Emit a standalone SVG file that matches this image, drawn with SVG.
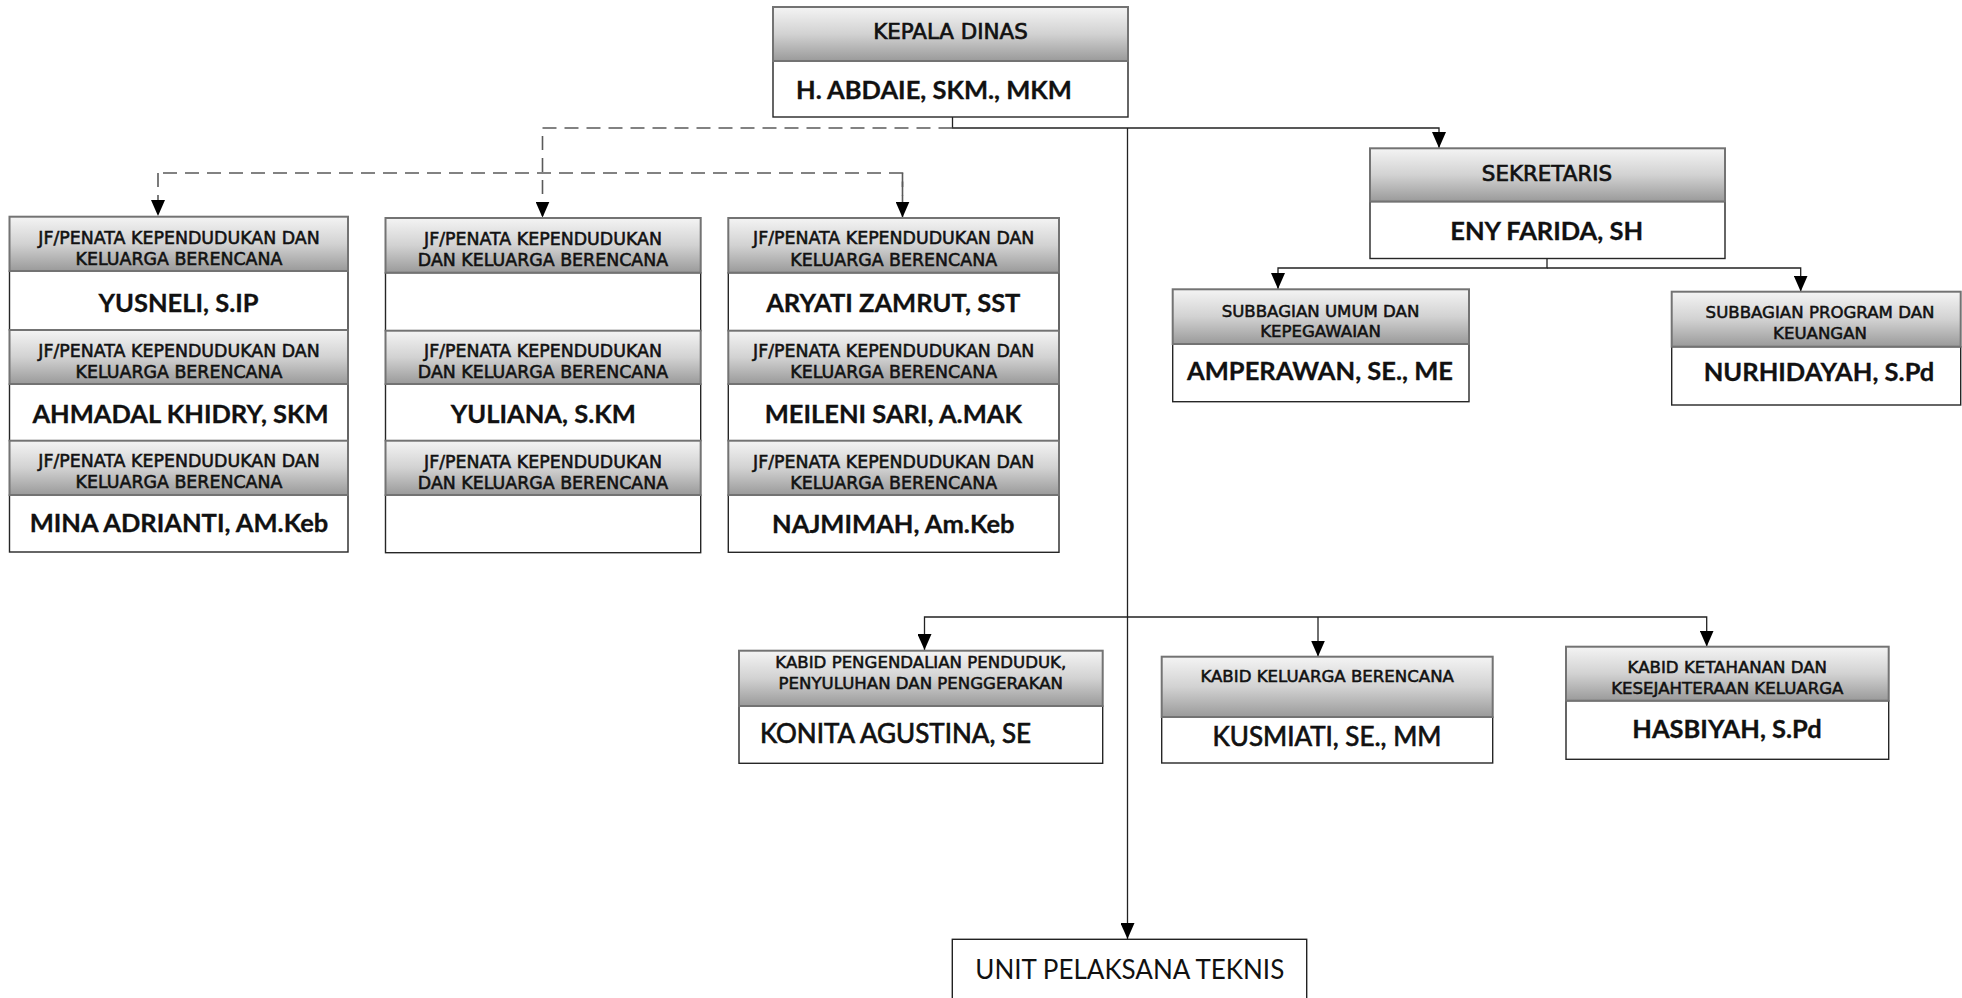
<svg xmlns="http://www.w3.org/2000/svg" width="1962" height="998" viewBox="0 0 1962 998">
<defs>
<linearGradient id="hg" x1="0" y1="0" x2="0" y2="1">
<stop offset="0" stop-color="#f4f4f4"/>
<stop offset="0.5" stop-color="#d2d2d2"/>
<stop offset="1" stop-color="#9a9a9a"/>
</linearGradient>
<marker id="arr" markerUnits="userSpaceOnUse" markerWidth="17" markerHeight="14" refX="16" refY="7" orient="auto" viewBox="0 0 17 14">
<path d="M0,0 L16,7 L0,14 z" fill="#000"/>
</marker>
<style>
.hd{fill:url(#hg);stroke:#737373;stroke-width:2}
.bx{fill:#fff;stroke:#262626;stroke-width:1.4}
.ht{font-family:"DejaVu Sans",sans-serif;fill:#111;stroke:#111;stroke-width:0.55;text-anchor:middle}
.h1{font-size:21.4px;stroke-width:0.7}
.h2{font-size:17.4px}
.h3{font-size:16.6px}
.nm{font-family:Lato,"Open Sans",sans-serif;font-weight:bold;fill:#111;stroke:#111;stroke-width:0.3;text-anchor:middle;font-size:25.5px}
.nr{font-family:Lato,"Open Sans",sans-serif;font-weight:normal;fill:#111;text-anchor:middle;font-size:26px}
.sb{stroke:#111;stroke-width:0.7}
.sl{fill:none;stroke:#222;stroke-width:1.3}
.dl{fill:none;stroke:#5a5a5a;stroke-width:1.6;stroke-dasharray:14 8}
</style>
</defs>
<rect width="1962" height="998" fill="#fff"/>

<g id="connectors">
<path class="sl" d="M952.5,117 V128 H1439 V148" marker-end="url(#arr)"/>
<path class="sl" d="M1127.5,128 V939" marker-end="url(#arr)"/>
<path class="dl" d="M952.5,128 H542.5 V217.5" marker-end="url(#arr)"/>
<path class="dl" d="M902.5,217.5 V173 H158"/>
<path class="dl" d="M158,173 V216" marker-end="url(#arr)"/>
<path class="dl" d="M902.5,173 V217.5" marker-end="url(#arr)"/>
<path class="sl" d="M1547,258.5 V268 H1278 V289" marker-end="url(#arr)"/>
<path class="sl" d="M1547,268 H1800.7 V291.5" marker-end="url(#arr)"/>
<path class="sl" d="M1127.5,617 H924.5 V650" marker-end="url(#arr)"/>
<path class="sl" d="M1127.5,617 H1706.7 V646.5" marker-end="url(#arr)"/>
<path class="sl" d="M1318,617 V656.5" marker-end="url(#arr)"/>
</g>

<g id="kepala-dinas">
<rect class="bx" x="773" y="61" width="355" height="56"/>
<rect class="hd" x="773" y="7" width="355" height="54"/>
<text class="ht h1" x="950.5" y="39">KEPALA DINAS</text>
<text class="nm" x="934" y="99" font-size="26.5px">H. ABDAIE, SKM., MKM</text>
</g>

<g id="jf-col1">
<rect class="bx" x="9.5" y="271" width="338.5" height="59"/>
<rect class="hd" x="9.5" y="216.7" width="338.5" height="54.3"/>
<text class="ht h2" x="179" y="243.5">JF/PENATA KEPENDUDUKAN DAN</text>
<text class="ht h2" x="179" y="264.5">KELUARGA BERENCANA</text>
<text class="nm" x="178.5" y="311.7">YUSNELI, S.IP</text>
<rect class="bx" x="9.5" y="384" width="338.5" height="56.7"/>
<rect class="hd" x="9.5" y="330" width="338.5" height="54"/>
<text class="ht h2" x="179" y="356.5">JF/PENATA KEPENDUDUKAN DAN</text>
<text class="ht h2" x="179" y="377.5">KELUARGA BERENCANA</text>
<text class="nm" x="180.5" y="422.7">AHMADAL KHIDRY, SKM</text>
<rect class="bx" x="9.5" y="495" width="338.5" height="57"/>
<rect class="hd" x="9.5" y="440.7" width="338.5" height="54.3"/>
<text class="ht h2" x="179" y="467">JF/PENATA KEPENDUDUKAN DAN</text>
<text class="ht h2" x="179" y="488">KELUARGA BERENCANA</text>
<text class="nm" x="179" y="531.7" font-size="24px">MINA ADRIANTI, AM.Keb</text>
</g>

<g id="jf-col2">
<rect class="bx" x="385.5" y="272.7" width="315.2" height="58"/>
<rect class="hd" x="385.5" y="218" width="315.2" height="54.7"/>
<text class="ht h2" x="543" y="244.5">JF/PENATA KEPENDUDUKAN</text>
<text class="ht h2" x="543" y="265.5">DAN KELUARGA BERENCANA</text>
<rect class="bx" x="385.5" y="384" width="315.2" height="56.7"/>
<rect class="hd" x="385.5" y="330.7" width="315.2" height="53.3"/>
<text class="ht h2" x="543" y="357">JF/PENATA KEPENDUDUKAN</text>
<text class="ht h2" x="543" y="378">DAN KELUARGA BERENCANA</text>
<text class="nm" x="543.3" y="422.7">YULIANA, S.KM</text>
<rect class="bx" x="385.5" y="495" width="315.2" height="57.7"/>
<rect class="hd" x="385.5" y="440.7" width="315.2" height="54.3"/>
<text class="ht h2" x="543" y="467.5">JF/PENATA KEPENDUDUKAN</text>
<text class="ht h2" x="543" y="488.5">DAN KELUARGA BERENCANA</text>
</g>

<g id="jf-col3">
<rect class="bx" x="728.3" y="272.7" width="330.7" height="58"/>
<rect class="hd" x="728.3" y="218" width="330.7" height="54.7"/>
<text class="ht h2" x="893.7" y="244">JF/PENATA KEPENDUDUKAN DAN</text>
<text class="ht h2" x="893.7" y="265.5">KELUARGA BERENCANA</text>
<text class="nm" x="893.3" y="311.7">ARYATI ZAMRUT, SST</text>
<rect class="bx" x="728.3" y="384" width="330.7" height="56.7"/>
<rect class="hd" x="728.3" y="330.7" width="330.7" height="53.3"/>
<text class="ht h2" x="893.7" y="357">JF/PENATA KEPENDUDUKAN DAN</text>
<text class="ht h2" x="893.7" y="378">KELUARGA BERENCANA</text>
<text class="nm" x="893.3" y="422.7">MEILENI SARI, A.MAK</text>
<rect class="bx" x="728.3" y="495" width="330.7" height="57.3"/>
<rect class="hd" x="728.3" y="440.7" width="330.7" height="54.3"/>
<text class="ht h2" x="893.7" y="467.5">JF/PENATA KEPENDUDUKAN DAN</text>
<text class="ht h2" x="893.7" y="488.5">KELUARGA BERENCANA</text>
<text class="nm" x="893.3" y="533">NAJMIMAH, Am.Keb</text>
</g>

<g id="sekretaris">
<rect class="bx" x="1370" y="201.5" width="355" height="57"/>
<rect class="hd" x="1370" y="148.3" width="355" height="53.2"/>
<text class="ht h1" x="1547" y="180.7">SEKRETARIS</text>
<text class="nm" x="1546.7" y="240">ENY FARIDA, SH</text>
</g>

<g id="subbagian-umum">
<rect class="bx" x="1172.7" y="344" width="296.3" height="57.7"/>
<rect class="hd" x="1172.7" y="289.3" width="296.3" height="54.7"/>
<text class="ht h3" x="1320.5" y="317">SUBBAGIAN UMUM DAN</text>
<text class="ht h3" x="1320.5" y="337">KEPEGAWAIAN</text>
<text class="nm" x="1320" y="379.5">AMPERAWAN, SE., ME</text>
</g>

<g id="subbagian-program">
<rect class="bx" x="1671.7" y="346.7" width="289" height="58.3"/>
<rect class="hd" x="1671.7" y="291.7" width="289" height="55"/>
<text class="ht h3" x="1820" y="318">SUBBAGIAN PROGRAM DAN</text>
<text class="ht h3" x="1820" y="338.5">KEUANGAN</text>
<text class="nm" x="1819" y="381">NURHIDAYAH, S.Pd</text>
</g>

<g id="kabid-pengendalian">
<rect class="bx" x="739" y="706" width="363.7" height="57.3"/>
<rect class="hd" x="739" y="650.7" width="363.7" height="55.3"/>
<text class="ht h3" x="920.8" y="668">KABID PENGENDALIAN PENDUDUK,</text>
<text class="ht h3" x="920.8" y="689">PENYULUHAN DAN PENGGERAKAN</text>
<text class="nr sb" x="895.5" y="743.3">KONITA AGUSTINA, SE</text>
</g>

<g id="kabid-kb">
<rect class="bx" x="1161.7" y="717" width="331" height="46"/>
<rect class="hd" x="1161.7" y="656.7" width="331" height="60.3"/>
<text class="ht h3" x="1327.2" y="682">KABID KELUARGA BERENCANA</text>
<text class="nr sb" x="1327" y="746">KUSMIATI, SE., MM</text>
</g>

<g id="kabid-ketahanan">
<rect class="bx" x="1566" y="700.7" width="322.7" height="58.6"/>
<rect class="hd" x="1566" y="646.7" width="322.7" height="54"/>
<text class="ht h3" x="1727.3" y="672.5">KABID KETAHANAN DAN</text>
<text class="ht h3" x="1727.3" y="694">KESEJAHTERAAN KELUARGA</text>
<text class="nm" x="1727" y="738">HASBIYAH, S.Pd</text>
</g>

<g id="upt">
<rect x="952.3" y="939.3" width="354.4" height="80" fill="#fff" stroke="#222" stroke-width="1.4"/>
<text class="nr" x="1129.8" y="979" font-size="25.5px">UNIT PELAKSANA TEKNIS</text>
</g>
</svg>
